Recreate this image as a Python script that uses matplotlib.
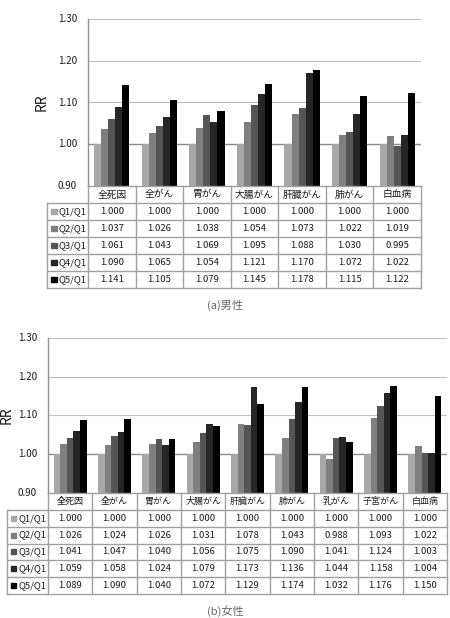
import matplotlib
matplotlib.use("Agg")
import matplotlib.pyplot as plt
from matplotlib.patches import Rectangle

plt.rcParams['font.family'] = ['Noto Sans CJK JP', 'DejaVu Sans']

series_names = ["Q1/Q1", "Q2/Q1", "Q3/Q1", "Q4/Q1", "Q5/Q1"]
colors = ["#a8a8a8", "#7f7f7f", "#555555", "#262626", "#000000"]

male_categories = ["全死因", "全がん", "胃がん", "大腸がん", "肝臓がん", "肺がん", "白血病"]
male_q1 = [1.000, 1.000, 1.000, 1.000, 1.000, 1.000, 1.000]
male_q2 = [1.037, 1.026, 1.038, 1.054, 1.073, 1.022, 1.019]
male_q3 = [1.061, 1.043, 1.069, 1.095, 1.088, 1.030, 0.995]
male_q4 = [1.090, 1.065, 1.054, 1.121, 1.170, 1.072, 1.022]
male_q5 = [1.141, 1.105, 1.079, 1.145, 1.178, 1.115, 1.122]

female_categories = ["全死因", "全がん", "胃がん", "大腸がん", "肝臓がん", "肺がん", "乳がん", "子宮がん", "白血病"]
female_q1 = [1.000, 1.000, 1.000, 1.000, 1.000, 1.000, 1.000, 1.000, 1.000]
female_q2 = [1.026, 1.024, 1.026, 1.031, 1.078, 1.043, 0.988, 1.093, 1.022]
female_q3 = [1.041, 1.047, 1.040, 1.056, 1.075, 1.090, 1.041, 1.124, 1.003]
female_q4 = [1.059, 1.058, 1.024, 1.079, 1.173, 1.136, 1.044, 1.158, 1.004]
female_q5 = [1.089, 1.090, 1.040, 1.072, 1.129, 1.174, 1.032, 1.176, 1.150]

yticks = [0.90, 1.00, 1.10, 1.20, 1.30]
caption_a = "(a)男性"
caption_b = "(b)女性"

W, H = 450, 618
fig = plt.figure(figsize=(W / 100, H / 100), dpi=100)
TXT = "#1a1a1a"


def px_axes(x0, y0, x1, y1):
    return fig.add_axes([x0 / W, 1 - y1 / H, (x1 - x0) / W, (y1 - y0) / H])


def draw_panel(cats, series, ax_x0, ax_x1, ax_y0, ax_y1, lab_x0, tab_y1, ytick_x, rr_x, caption, cap_y, head_fs):
    n = len(cats)
    ax = px_axes(ax_x0, ax_y0, ax_x1, ax_y1)
    ax.set_xlim(0, n)
    ax.set_ylim(0.90, 1.30)
    for s in ax.spines.values():
        s.set_visible(False)
    ax.plot([0, 0], [0.90, 1.30], color="#909090", lw=1.0, clip_on=False)
    for yv in yticks[1:]:
        ax.axhline(yv, color="#8a8a8a" if yv == 1.0 else "#c0c0c0", lw=1.0 if yv == 1.0 else 0.8, zorder=0)
    ax.set_xticks([])
    ax.set_yticks([])
    group = 0.74
    bw = group / 5
    for k, vals in enumerate(series):
        xs = [i + 0.5 - group / 2 + bw * (k + 0.5) for i in range(n)]
        hs = [v - 0.90 for v in vals]
        ax.bar(xs, hs, bottom=0.90, width=bw, color=colors[k], edgecolor="none", zorder=2)
    for yv in yticks:
        yp = ax_y1 - (yv - 0.90) / 0.40 * (ax_y1 - ax_y0)
        fig.text(ytick_x / W, 1 - yp / H, f"{yv:.2f}", ha="right", va="center", fontsize=7, color=TXT)
    fig.text(rr_x / W, 1 - (ax_y0 + ax_y1) / 2 / H, "RR", rotation=90, ha="center", va="center", fontsize=10, color=TXT)

    cw = (ax_x1 - ax_x0) / n
    lw_units = (ax_x0 - lab_x0) / cw
    tab = px_axes(lab_x0, ax_y1, ax_x1, tab_y1)
    tab.set_xlim(-lw_units, n)
    tab.set_ylim(6, 0)
    tab.axis("off")
    gc = "#a0a0a0"
    tab.plot([0, n], [0, 0], color=gc, lw=1.0, clip_on=False)
    for r in range(1, 7):
        tab.plot([-lw_units, n], [r, r], color=gc, lw=1.0, clip_on=False)
    tab.plot([-lw_units, -lw_units], [1, 6], color=gc, lw=1.0, clip_on=False)
    for c in range(0, n + 1):
        tab.plot([c, c], [0, 6], color=gc, lw=1.0, clip_on=False)
    for i, c in enumerate(cats):
        tab.text(i + 0.5, 0.5, c, ha="center", va="center", fontsize=head_fs, color=TXT)
    for k, vals in enumerate(series):
        r = k + 1
        tab.add_patch(Rectangle((-lw_units + 0.08, r + 0.35), 0.12, 0.3, color=colors[k], clip_on=False))
        tab.text(-lw_units + 0.25, r + 0.5, series_names[k], ha="left", va="center", fontsize=6.8, color=TXT)
        for i, v in enumerate(vals):
            tab.text(i + 0.5, r + 0.5, f"{v:.3f}", ha="center", va="center", fontsize=6.8, color=TXT)
    fig.text(225 / W, 1 - cap_y / H, caption, ha="center", va="center", fontsize=8, color="#666666")


draw_panel(male_categories, [male_q1, male_q2, male_q3, male_q4, male_q5],
           88, 421, 19, 186, 47, 288, 77, 42, caption_a, 305, 7)
draw_panel(female_categories, [female_q1, female_q2, female_q3, female_q4, female_q5],
           48, 447, 338, 493, 7, 594, 37, 7, caption_b, 611, 6.5)

fig.savefig("out.png", dpi=100, facecolor="white")
